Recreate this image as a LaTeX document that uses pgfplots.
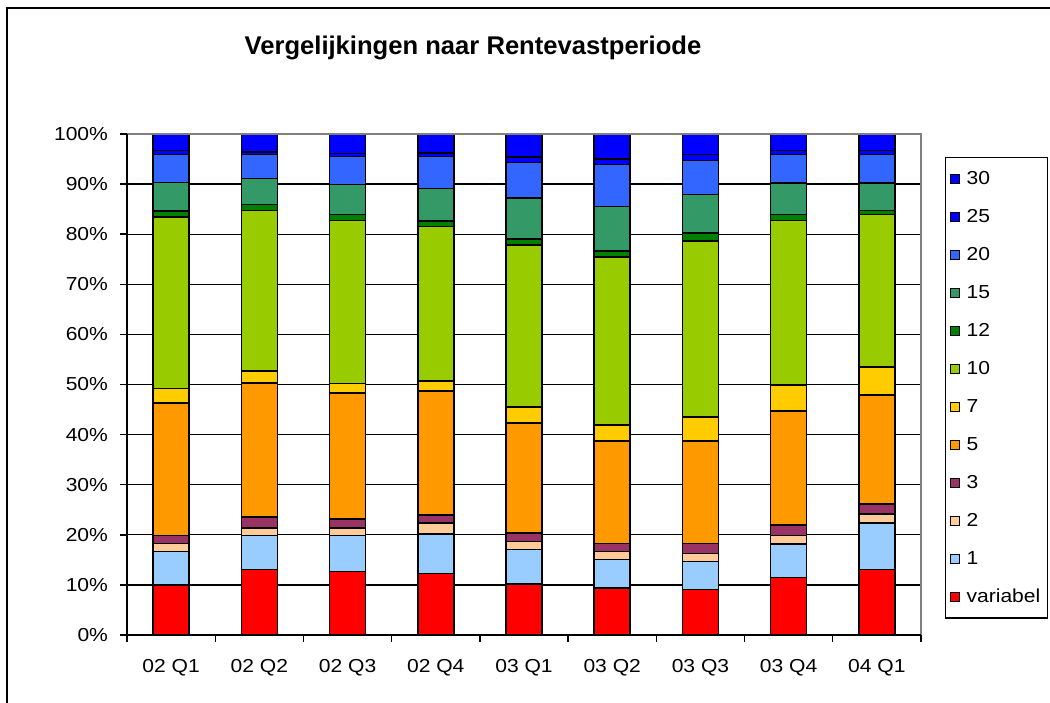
\documentclass[border=0pt]{standalone}
\usepackage{pgfplots}
\pgfplotsset{compat=1.18}
\usepackage{pgfplotstable}
\usepackage{fontspec}
\setmainfont[FakeStretch=1.12]{Liberation Sans}
\newfontfamily\titlefont{Liberation Sans}

\definecolor{cvar}{HTML}{FF0000}
\definecolor{c1}{HTML}{99CCFF}
\definecolor{c2}{HTML}{FFCC99}
\definecolor{c3}{HTML}{993366}
\definecolor{c5}{HTML}{FF9900}
\definecolor{c7}{HTML}{FFCC00}
\definecolor{c10}{HTML}{99CC00}
\definecolor{c12}{HTML}{008000}
\definecolor{c15}{HTML}{339966}
\definecolor{c20}{HTML}{3366FF}
\definecolor{c25}{HTML}{0000FF}
\definecolor{c30}{HTML}{0000FF}

\pgfplotstableread{
x var r1 r2 r3 r5 r7 r10 r12 r15 r20 r25 r30
0 10.0 6.7 1.6 1.6 26.4 2.9 34.2 1.2 5.7 5.6 0.8 3.3
1 13.1 6.8 1.5 2.1 26.8 2.4 32.0 1.2 5.2 4.8 0.5 3.6
2 12.7 7.2 1.5 1.7 25.2 1.9 32.5 1.2 6.0 5.6 0.6 3.9
3 12.3 7.9 2.1 1.7 24.7 2.0 30.8 1.1 6.5 6.4 0.7 3.8
4 10.2 6.9 1.6 1.6 22.0 3.2 32.4 1.2 8.1 7.1 1.1 4.6
5 9.4 5.7 1.6 1.6 20.4 3.2 33.6 1.2 8.8 8.4 1.1 5.0
6 9.1 5.6 1.6 2.0 20.4 4.8 35.2 1.5 7.7 6.8 1.2 4.1
7 11.5 6.7 1.7 2.0 22.8 5.2 32.8 1.2 6.3 5.7 0.8 3.3
8 13.1 9.2 1.9 2.0 21.7 5.6 30.4 0.8 5.5 5.7 0.8 3.3
}\data

\begin{document}
\begin{tikzpicture}
\useasboundingbox (0,0) rectangle (525pt,351pt);
\clip (0,0) rectangle (525pt,351pt);
\fill[white] (0,0) rectangle (525pt,351pt);
\draw[line width=1pt] (3.5pt,-10pt) -- (3.5pt,347pt) -- (540pt,347pt);
\node[anchor=base, font=\titlefont\fontsize{12.8}{14}\selectfont\bfseries] at (236.5pt,323.5pt) {Vergelijkingen naar Rentevastperiode};
\begin{axis}[
  at={(63.5pt,33.5pt)}, anchor=south west,
  width=397pt, height=250.5pt, scale only axis,
  ybar stacked, bar width=18pt,
  xmin=-0.5, xmax=8.5, ymin=0, ymax=100,
  xtick={0,...,8},
  xticklabels={02 Q1,02 Q2,02 Q3,02 Q4,03 Q1,03 Q2,03 Q3,03 Q4,04 Q1},
  major x tick style={draw=none},
  minor xtick={-0.5,0.5,...,8.5},
  minor tick length=3.5pt, major tick length=3.5pt,
  tick align=outside, xtick pos=bottom, ytick pos=left,
  ytick={0,10,...,100},
  yticklabel={\pgfmathprintnumber{\tick}\%},
  tick style={black, line width=0.7pt},
  /pgf/number format/assume math mode=true,
  ticklabel style={font=\fontsize{9.4}{11}\selectfont},
  xticklabel style={yshift=-5pt},
  yticklabel style={xshift=-2.5pt},
  ymajorgrids, grid style={black, line width=0.6pt},
  axis line style={draw=none},
  reverse legend,
  legend cell align=left,
  legend style={at={(1.030,0.954)}, anchor=north west, draw=black, line width=0.7pt,
    fill=white, font=\fontsize{9.4}{11}\selectfont,
    nodes={inner sep=1.5pt, text height=6.7pt, text depth=1.5pt},
    row sep=7.8pt, inner xsep=2pt, inner ysep=5pt},
  legend image code/.code={\draw[#1, draw=black, line width=0.5pt] (0pt,-2.3pt) rectangle (4.6pt,2.3pt); \path (6.4pt,0pt);},
  every axis plot/.append style={draw=black, line width=0.8pt},
  after end axis/.code={
    \draw[gray, line width=1pt] (rel axis cs:0,1) -- (rel axis cs:1,1) -- (rel axis cs:1,0);
    \draw[black, line width=1pt] (rel axis cs:0,1) -- (rel axis cs:0,0) -- (rel axis cs:1,0);
  },
]
\addplot[fill=cvar] table[x=x, y=var] {\data};
\addplot[fill=c1] table[x=x, y=r1] {\data};
\addplot[fill=c2] table[x=x, y=r2] {\data};
\addplot[fill=c3] table[x=x, y=r3] {\data};
\addplot[fill=c5] table[x=x, y=r5] {\data};
\addplot[fill=c7] table[x=x, y=r7] {\data};
\addplot[fill=c10] table[x=x, y=r10] {\data};
\addplot[fill=c12] table[x=x, y=r12] {\data};
\addplot[fill=c15] table[x=x, y=r15] {\data};
\addplot[fill=c20] table[x=x, y=r20] {\data};
\addplot[fill=c25] table[x=x, y=r25] {\data};
\addplot[fill=c30] table[x=x, y=r30] {\data};
\legend{variabel,1,2,3,5,7,10,12,15,20,25,30}
\end{axis}
\end{tikzpicture}
\end{document}
